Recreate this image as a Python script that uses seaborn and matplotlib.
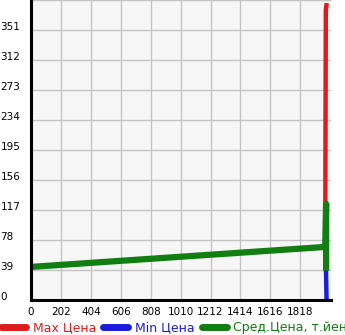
import numpy as np
import pandas as pd
import matplotlib
matplotlib.use("Agg")
import matplotlib.pyplot as plt
import seaborn as sns
from matplotlib.lines import Line2D

# ---- data ----
max_x = [1986, 1990, 1996]
max_y = [69, 377, 386]
min_x = [1988, 1995]
min_y = [69, 1]
avg_x = [0, 1986, 1992, 1992]
avg_y = [43, 69, 125, 38]

x_ticks = [0, 202, 404, 606, 808, 1010, 1212, 1414, 1616, 1818]
y_ticks = [0, 39, 78, 117, 156, 195, 234, 273, 312, 351]
labels = ["Max Цена", "Min Цена", "Сред.Цена, т.йен"]
colors = ["#dd1c1c", "#1c1cdd", "#117e11"]

df = pd.concat([
    pd.DataFrame({"x": max_x, "y": max_y, "s": labels[0], "o": range(len(max_x))}),
    pd.DataFrame({"x": min_x, "y": min_y, "s": labels[1], "o": range(len(min_x))}),
    pd.DataFrame({"x": avg_x, "y": avg_y, "s": labels[2], "o": range(len(avg_x))}),
], ignore_index=True)

sns.set_style("white")
plt.rcParams["font.family"] = ["DejaVu Sans"]

fig = plt.figure(figsize=(3.45, 3.35), dpi=100)
ax = fig.add_axes([31 / 345, (335 - 300) / 335, (331 - 31) / 345, 300 / 335])
ax.set_facecolor("#f6f6f6")

widths = [3.2, 3.2, 4.5]
for lab, col, lw in zip(labels, colors, widths):
    sub = df[df["s"] == lab]
    sns.lineplot(data=sub, x="x", y="y", color=col, linewidth=lw,
                 sort=False, estimator=None, ax=ax, legend=False,
                 solid_capstyle="butt")

ax.set_xlim(0, 2025)
ax.set_ylim(0, 390)
ax.set_xticks(x_ticks)
ax.set_yticks(y_ticks + [390])
ax.set_xticklabels([str(v) for v in x_ticks])
ax.set_yticklabels([str(v) for v in y_ticks] + [""])
ax.grid(True, color="#c4c4c4", linewidth=1.0)
ax.set_axisbelow(True)
ax.set_xlabel("")
ax.set_ylabel("")

for s in ["top", "right"]:
    ax.spines[s].set_visible(False)
ax.spines["left"].set_linewidth(2.2)
ax.spines["bottom"].set_linewidth(2.2)
ax.spines["left"].set_color("black")
ax.spines["bottom"].set_color("black")

ax.tick_params(axis="x", length=0, pad=5, labelsize=7.5, colors="black")
ax.tick_params(axis="y", length=2.5, width=1, pad=19.5, labelsize=7.5,
               colors="black", direction="out")
for t in ax.get_yticklabels():
    t.set_horizontalalignment("left")
    t.set_verticalalignment("baseline")

handles = [Line2D([0], [0], color=c, linewidth=5, solid_capstyle="round")
           for c in colors]
leg = fig.legend(handles, labels, loc="center", bbox_to_anchor=(0.505, 1 - 328 / 335),
                 ncol=3, frameon=False, fontsize=9, handlelength=2.0,
                 handletextpad=0.5, columnspacing=0.6, labelcolor=colors,
                 borderaxespad=0)

fig.savefig("out.png", dpi=100, facecolor="white")
